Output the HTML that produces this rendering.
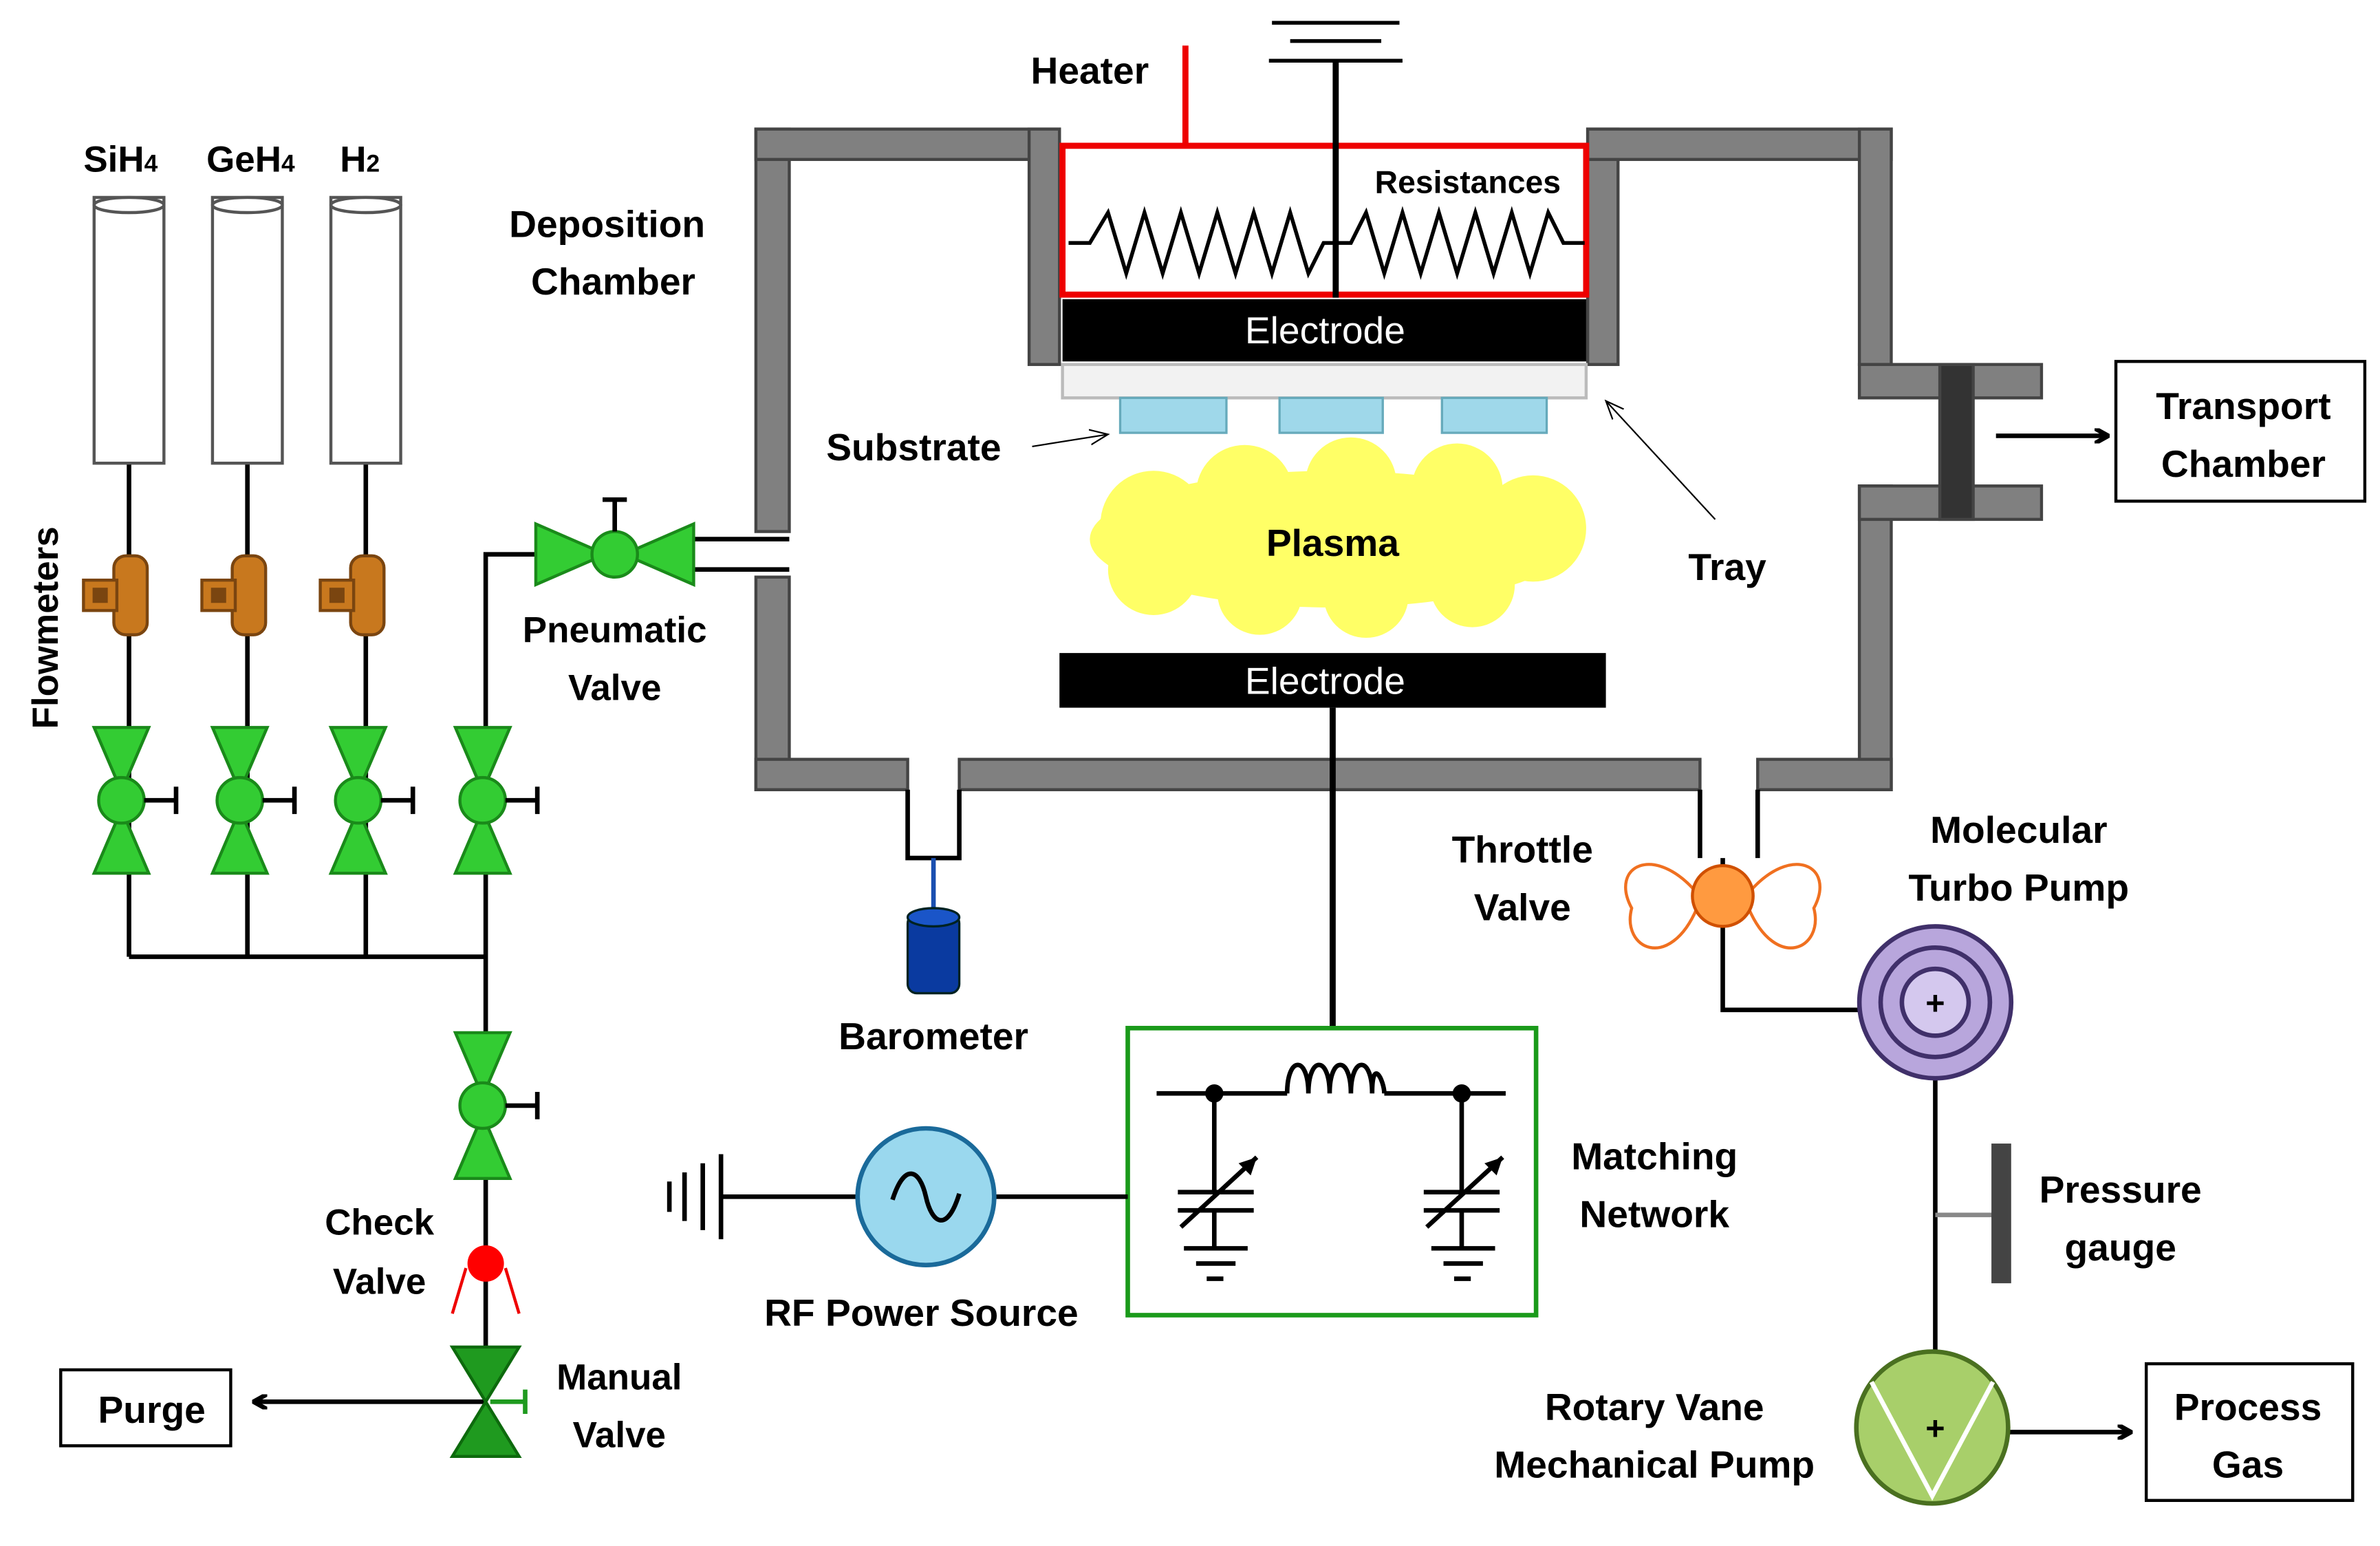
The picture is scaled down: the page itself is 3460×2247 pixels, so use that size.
<!DOCTYPE html>
<html><head><meta charset="utf-8"><style>
html,body{margin:0;padding:0;background:#fff;}
svg{display:block;}
text{font-family:"Liberation Sans",sans-serif;font-weight:bold;fill:#000;}
</style></head><body>
<svg width="3460" height="2247" viewBox="0 0 1568 1018" preserveAspectRatio="none" xmlns="http://www.w3.org/2000/svg">
<defs>
<marker id="ar" markerWidth="10" markerHeight="10" refX="8" refY="5" orient="auto" markerUnits="userSpaceOnUse"><path d="M0,0 L9,5 L0,10" fill="none" stroke="#000" stroke-width="3"/></marker>
<marker id="ta" markerWidth="14" markerHeight="12" refX="12" refY="6" orient="auto" markerUnits="userSpaceOnUse"><path d="M0,1 L12,6 L0,11" fill="none" stroke="#000" stroke-width="1"/></marker>
<g id="valve">
<polygon points="-18,-48 18,-48 0,-6" fill="#33cc33" stroke="#1a8a1a" stroke-width="2"/>
<polygon points="-18,48 18,48 0,6" fill="#33cc33" stroke="#1a8a1a" stroke-width="2"/>
<circle r="15" fill="#33cc33" stroke="#1a8a1a" stroke-width="2"/>
<line x1="15" y1="0" x2="36" y2="0" stroke="#000" stroke-width="3"/>
<line x1="36" y1="-9" x2="36" y2="9" stroke="#000" stroke-width="3"/>
</g>
<g id="fm">
<rect x="-10" y="-26" width="22" height="52" rx="8" fill="#c8781e" stroke="#7a4510" stroke-width="2"/>
<rect x="-30" y="-10" width="22" height="20" fill="#c8781e" stroke="#7a4510" stroke-width="2"/>
<rect x="-24" y="-5" width="10" height="10" fill="#7a4510"/>
</g>
<g id="cyl">
<rect x="0" y="0" width="46" height="175" fill="#fff" stroke="#555" stroke-width="2"/>
<ellipse cx="23" cy="5" rx="23" ry="5" fill="#fff" stroke="#555" stroke-width="2"/>
</g>
</defs>

<!-- gas lines -->
<g stroke="#000" stroke-width="3" fill="none">
<line x1="85" y1="305" x2="85" y2="630"/><line x1="163" y1="305" x2="163" y2="630"/><line x1="241" y1="305" x2="241" y2="630"/>
<line x1="85" y1="630" x2="320" y2="630"/>
<polyline points="355,365 320,365 320,890"/>
<line x1="320" y1="923" x2="168" y2="923" marker-end="url(#ar)"/>
<line x1="455" y1="355" x2="520" y2="355"/><line x1="455" y1="375" x2="520" y2="375"/>
</g>
<use href="#cyl" x="62" y="130"/><use href="#cyl" x="140" y="130"/><use href="#cyl" x="218" y="130"/>
<text x="55" y="113" font-size="24">SiH<tspan font-size="16">4</tspan></text>
<text x="136" y="113" font-size="24">GeH<tspan font-size="16">4</tspan></text>
<text x="224" y="113" font-size="24">H<tspan font-size="16">2</tspan></text>
<text transform="translate(38,480) rotate(-90)" font-size="24">Flowmeters</text>
<use href="#fm" x="85" y="392"/><use href="#fm" x="163" y="392"/><use href="#fm" x="241" y="392"/>
<use href="#valve" x="80" y="527"/><use href="#valve" x="158" y="527"/><use href="#valve" x="236" y="527"/><use href="#valve" x="318" y="527"/>
<use href="#valve" x="318" y="728"/>
<!-- pneumatic valve -->
<g transform="translate(405,365)">
<polygon points="-52,-20 -52,20 -6,0" fill="#33cc33" stroke="#1a8a1a" stroke-width="2"/>
<polygon points="52,-20 52,20 6,0" fill="#33cc33" stroke="#1a8a1a" stroke-width="2"/>
<circle r="15" fill="#33cc33" stroke="#1a8a1a" stroke-width="2"/>
<line x1="0" y1="-15" x2="0" y2="-36" stroke="#000" stroke-width="3"/><line x1="-8" y1="-36" x2="8" y2="-36" stroke="#000" stroke-width="3"/>
</g>
<text x="405" y="423" font-size="24" text-anchor="middle">Pneumatic</text>
<text x="405" y="461" font-size="24" text-anchor="middle">Valve</text>
<!-- check valve -->
<line x1="307" y1="835" x2="298" y2="865" stroke="#e00" stroke-width="2"/><line x1="333" y1="835" x2="342" y2="865" stroke="#e00" stroke-width="2"/>
<circle cx="320" cy="832" r="12" fill="#f00"/>
<text x="250" y="813" font-size="24" text-anchor="middle">Check</text>
<text x="250" y="852" font-size="24" text-anchor="middle">Valve</text>
<!-- manual valve -->
<g transform="translate(320,923)">
<polygon points="-22,-36 22,-36 0,0" fill="#1f9a1f" stroke="#0d6a0d" stroke-width="2"/>
<polygon points="-22,36 22,36 0,0" fill="#1f9a1f" stroke="#0d6a0d" stroke-width="2"/>
<line x1="3" y1="0" x2="26" y2="0" stroke="#1f9a1f" stroke-width="3"/><line x1="26" y1="-8" x2="26" y2="8" stroke="#1f9a1f" stroke-width="3"/>
</g>
<text x="408" y="915" font-size="24" text-anchor="middle">Manual</text>
<text x="408" y="953" font-size="24" text-anchor="middle">Valve</text>
<rect x="40" y="902" width="112" height="50" fill="#fff" stroke="#000" stroke-width="2"/>
<text x="100" y="937" font-size="25" text-anchor="middle">Purge</text>

<!-- chamber walls -->
<g fill="#808080" stroke="#444" stroke-width="2">
<rect x="498" y="85" width="22" height="265"/>
<rect x="498" y="380" width="22" height="140"/>
<rect x="498" y="85" width="200" height="20"/>
<rect x="678" y="85" width="20" height="155"/>
<rect x="1046" y="85" width="20" height="155"/>
<rect x="1046" y="85" width="200" height="20"/>
<rect x="1225" y="85" width="21" height="155"/>
<rect x="1225" y="320" width="21" height="200"/>
<rect x="498" y="500" width="100" height="20"/>
<rect x="632" y="500" width="488" height="20"/>
<rect x="1158" y="500" width="88" height="20"/>
<rect x="1225" y="240" width="120" height="22"/>
<rect x="1225" y="320" width="120" height="22"/>
<rect x="1278" y="240" width="22" height="102" fill="#333"/>
</g>
<g stroke="#000" stroke-width="3" fill="none">
<polyline points="598,520 598,565 632,565 632,520"/>
<polyline points="1120,520 1120,565"/><polyline points="1158,520 1158,565"/>
</g>
<line x1="1315" y1="287" x2="1388" y2="287" stroke="#000" stroke-width="3" marker-end="url(#ar)"/>
<rect x="1394" y="238" width="164" height="92" fill="#fff" stroke="#000" stroke-width="2"/>
<text x="1478" y="276" font-size="25" text-anchor="middle">Transport</text>
<text x="1478" y="314" font-size="25" text-anchor="middle">Chamber</text>
<text x="400" y="156" font-size="25" text-anchor="middle">Deposition</text>
<text x="404" y="194" font-size="25" text-anchor="middle">Chamber</text>

<!-- heater -->
<line x1="781" y1="30" x2="781" y2="96" stroke="#e00" stroke-width="4"/>
<text x="718" y="55" font-size="25" text-anchor="middle">Heater</text>
<rect x="700" y="96" width="345" height="98" fill="#fff" stroke="#e00" stroke-width="4"/>
<g stroke="#000" stroke-width="2.5"><line x1="838" y1="15" x2="922" y2="15"/><line x1="850" y1="27" x2="910" y2="27"/><line x1="836" y1="40" x2="924" y2="40"/></g>
<line x1="880" y1="40" x2="880" y2="196" stroke="#000" stroke-width="4"/>
<polyline points="704,160 718,160 730,140 742,180 754,140 766,180 778,140 790,180 802,140 814,180 826,140 838,180 850,140 862,180 872,160 880,160 890,160 900,140 912,180 924,140 936,180 948,140 960,180 972,140 984,180 996,140 1008,180 1020,140 1030,160 1044,160" fill="none" stroke="#000" stroke-width="2.5"/>
<text x="967" y="127" font-size="21" text-anchor="middle">Resistances</text>
<rect x="700" y="197" width="345" height="41" fill="#000"/>
<text x="873" y="226" font-size="25" text-anchor="middle" style="fill:#fff;font-weight:normal">Electrode</text>
<rect x="700" y="240" width="345" height="22" fill="#f2f2f2" stroke="#bbb" stroke-width="2"/>
<rect x="738" y="262" width="70" height="23" fill="#9fd8ea" stroke="#6ab" stroke-width="1.5"/>
<rect x="843" y="262" width="68" height="23" fill="#9fd8ea" stroke="#6ab" stroke-width="1.5"/>
<rect x="950" y="262" width="69" height="23" fill="#9fd8ea" stroke="#6ab" stroke-width="1.5"/>
<text x="602" y="303" font-size="25" text-anchor="middle">Substrate</text>
<line x1="680" y1="294" x2="730" y2="286" stroke="#000" stroke-width="1" marker-end="url(#ta)"/>
<line x1="1130" y1="342" x2="1058" y2="264" stroke="#000" stroke-width="1" marker-end="url(#ta)"/>
<text x="1138" y="382" font-size="25" text-anchor="middle">Tray</text>
<!-- plasma -->
<g fill="#ffff66">
<ellipse cx="878" cy="355" rx="160" ry="45"/>
<circle cx="760" cy="345" r="35"/><circle cx="820" cy="325" r="32"/><circle cx="890" cy="318" r="30"/><circle cx="960" cy="322" r="30"/><circle cx="1010" cy="348" r="35"/>
<circle cx="760" cy="375" r="30"/><circle cx="830" cy="390" r="28"/><circle cx="900" cy="392" r="28"/><circle cx="970" cy="385" r="28"/>
</g>
<text x="878" y="366" font-size="25" text-anchor="middle">Plasma</text>
<rect x="698" y="430" width="360" height="36" fill="#000"/>
<text x="873" y="457" font-size="25" text-anchor="middle" style="fill:#fff;font-weight:normal">Electrode</text>
<line x1="878" y1="466" x2="878" y2="678" stroke="#000" stroke-width="4"/>

<!-- barometer -->
<line x1="615" y1="565" x2="615" y2="602" stroke="#1a4fb0" stroke-width="3"/>
<rect x="598" y="602" width="34" height="52" rx="6" fill="#0a3aa0" stroke="#022" stroke-width="1.5"/>
<ellipse cx="615" cy="604" rx="17" ry="6" fill="#1a55c8" stroke="#022" stroke-width="1.5"/>
<text x="615" y="691" font-size="25" text-anchor="middle">Barometer</text>

<!-- matching network -->
<rect x="743" y="677" width="269" height="189" fill="#fff" stroke="#1a9a1a" stroke-width="3"/>
<g stroke="#000" stroke-width="3" fill="none">
<line x1="762" y1="720" x2="848" y2="720"/>
<path d="M848,720 C848,695 862,695 862,720 C862,695 876,695 876,720 C876,695 890,695 890,720 C890,695 904,695 904,720 C904,695 912,712 912,720"/>
<line x1="912" y1="720" x2="992" y2="720"/>
<line x1="800" y1="720" x2="800" y2="785"/><line x1="776" y1="785" x2="826" y2="785"/><line x1="776" y1="797" x2="826" y2="797"/><line x1="800" y1="797" x2="800" y2="822"/>
<line x1="780" y1="822" x2="822" y2="822"/><line x1="788" y1="832" x2="814" y2="832"/><line x1="795" y1="842" x2="806" y2="842"/>
<line x1="778" y1="808" x2="828" y2="762"/>
<line x1="963" y1="720" x2="963" y2="785"/><line x1="938" y1="785" x2="988" y2="785"/><line x1="938" y1="797" x2="988" y2="797"/><line x1="963" y1="797" x2="963" y2="822"/>
<line x1="943" y1="822" x2="985" y2="822"/><line x1="951" y1="832" x2="977" y2="832"/><line x1="958" y1="842" x2="969" y2="842"/>
<line x1="940" y1="808" x2="990" y2="762"/>
</g>
<polygon points="828,762 816,766 824,774" fill="#000"/><polygon points="990,762 978,766 986,774" fill="#000"/>
<circle cx="800" cy="720" r="6" fill="#000"/><circle cx="963" cy="720" r="6" fill="#000"/>
<text x="1090" y="770" font-size="25" text-anchor="middle">Matching</text>
<text x="1090" y="808" font-size="25" text-anchor="middle">Network</text>
<!-- RF -->
<g stroke="#000" stroke-width="3"><line x1="475" y1="788" x2="565" y2="788"/><line x1="655" y1="788" x2="743" y2="788"/>
<line x1="475" y1="760" x2="475" y2="816"/><line x1="463" y1="766" x2="463" y2="810"/><line x1="451" y1="772" x2="451" y2="804"/><line x1="441" y1="778" x2="441" y2="798"/></g>
<circle cx="610" cy="788" r="45" fill="#9ad8ee" stroke="#1a6a9a" stroke-width="3"/>
<path d="M588,790 C596,765 606,770 610,788 C614,806 624,812 632,786" fill="none" stroke="#000" stroke-width="3"/>
<text x="607" y="873" font-size="25" text-anchor="middle">RF Power Source</text>

<!-- throttle / pumps -->
<g stroke="#000" stroke-width="3" fill="none">
<polyline points="1135,565 1135,665 1225,665"/>
<line x1="1275" y1="710" x2="1275" y2="890"/>
<line x1="1275" y1="800" x2="1313" y2="800" stroke="#888"/>
<line x1="1323" y1="943" x2="1403" y2="943" marker-end="url(#ar)"/>
</g>
<rect x="1312" y="753" width="13" height="92" fill="#444"/>
<path d="M1118,588 C1090,555 1060,570 1075,598 C1068,625 1100,640 1118,598 Z" fill="#fff" stroke="#f07020" stroke-width="2"/>
<path d="M1152,588 C1180,555 1210,570 1195,598 C1202,625 1170,640 1152,598 Z" fill="#fff" stroke="#f07020" stroke-width="2"/>
<circle cx="1135" cy="590" r="20" fill="#ff9a40" stroke="#d05000" stroke-width="2"/>
<text x="1003" y="568" font-size="25" text-anchor="middle">Throttle</text>
<text x="1003" y="606" font-size="25" text-anchor="middle">Valve</text>
<circle cx="1275" cy="660" r="50" fill="#b8a6dc" stroke="#40306a" stroke-width="3"/>
<circle cx="1275" cy="660" r="36" fill="none" stroke="#40306a" stroke-width="3"/>
<circle cx="1275" cy="660" r="22" fill="#d4c8ee" stroke="#40306a" stroke-width="3"/>
<text x="1275" y="668" font-size="22" text-anchor="middle">+</text>
<text x="1330" y="555" font-size="25" text-anchor="middle">Molecular</text>
<text x="1330" y="593" font-size="25" text-anchor="middle">Turbo Pump</text>
<text x="1397" y="792" font-size="25" text-anchor="middle">Pressure</text>
<text x="1397" y="830" font-size="25" text-anchor="middle">gauge</text>
<circle cx="1273" cy="940" r="50" fill="#a8cf6a" stroke="#4a7020" stroke-width="3"/>
<polyline points="1233,910 1273,985 1313,910" fill="none" stroke="#fff" stroke-width="3"/>
<text x="1275" y="948" font-size="22" text-anchor="middle">+</text>
<text x="1090" y="935" font-size="25" text-anchor="middle">Rotary Vane</text>
<text x="1090" y="973" font-size="25" text-anchor="middle">Mechanical Pump</text>
<rect x="1414" y="898" width="136" height="90" fill="#fff" stroke="#000" stroke-width="2"/>
<text x="1481" y="935" font-size="25" text-anchor="middle">Process</text>
<text x="1481" y="973" font-size="25" text-anchor="middle">Gas</text>
</svg>
</body></html>
